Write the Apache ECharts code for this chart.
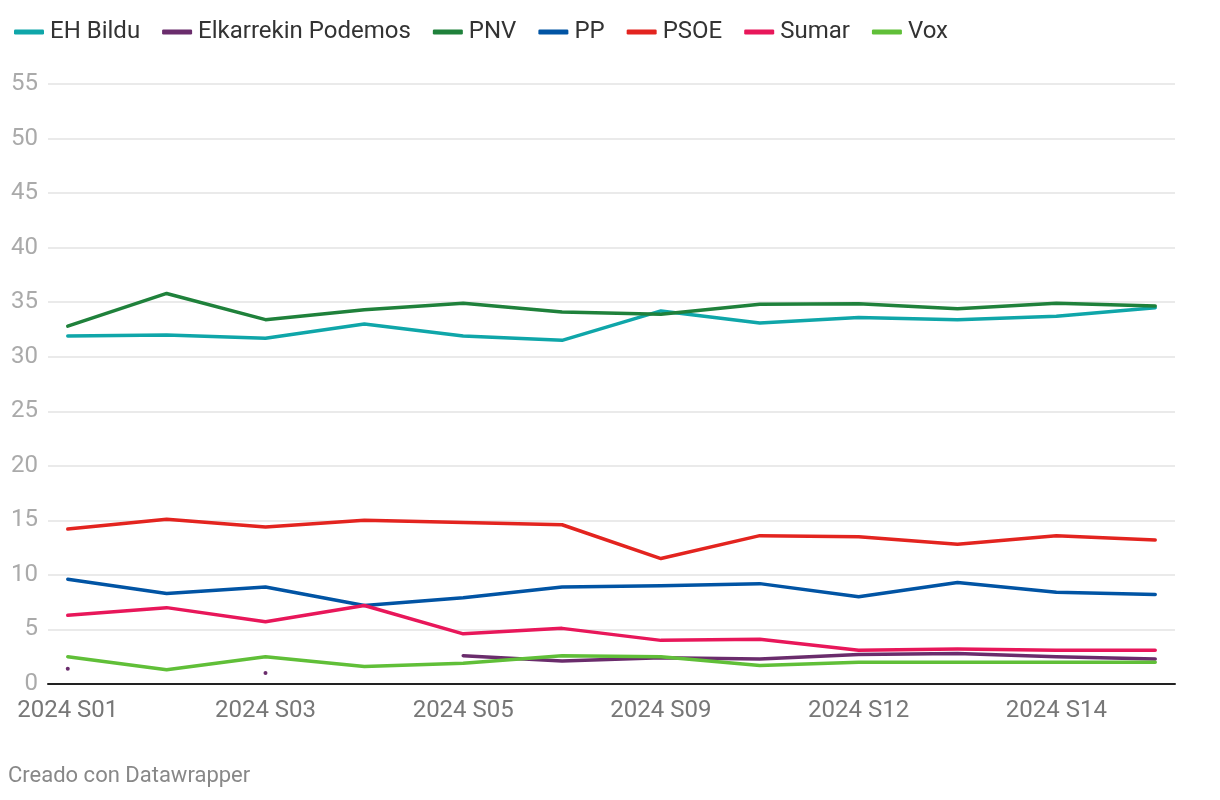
<!DOCTYPE html>
<html>
<head>
<meta charset="utf-8">
<script src="https://cdn.jsdelivr.net/npm/echarts@6/dist/echarts.min.js"></script>
<style>
  html, body { margin: 0; padding: 0; background: #fff; }
  #chart { width: 1220px; height: 800px; }
</style>
</head>
<body>
<div id="chart"></div>
<script>
// categorias (semanas)
const categories = ['2024 S01', '2024 S02', '2024 S03', '2024 S04', '2024 S05', '2024 S07',
                    '2024 S09', '2024 S10', '2024 S12', '2024 S13', '2024 S14', '2024 S15'];
const labelIdx = [0, 2, 4, 6, 8, 10];

const ehBildu    = [31.9, 32.0, 31.7, 33.0, 31.9, 31.5, 34.2, 33.1, 33.6, 33.4, 33.7, 34.5];
const elkarrekin = [1.4, null, 1.0, null, 2.6, 2.1, 2.4, 2.3, 2.7, 2.8, 2.5, 2.3];
const pnv        = [32.8, 35.8, 33.4, 34.3, 34.9, 34.1, 33.9, 34.8, 34.85, 34.4, 34.9, 34.65];
const pp         = [9.6, 8.3, 8.9, 7.2, 7.9, 8.9, 9.0, 9.2, 8.0, 9.3, 8.4, 8.2];
const psoe       = [14.2, 15.1, 14.4, 15.0, 14.8, 14.6, 11.5, 13.6, 13.5, 12.8, 13.6, 13.2];
const sumar      = [6.3, 7.0, 5.7, 7.2, 4.6, 5.1, 4.0, 4.1, 3.1, 3.2, 3.1, 3.1];
const vox        = [2.5, 1.3, 2.5, 1.6, 1.9, 2.6, 2.5, 1.7, 2.0, 2.0, 2.0, 2.0];

const seriesDefs = [
  { name: 'EH Bildu', data: ehBildu, color: '#0fa6a9' },
  { name: 'Elkarrekin Podemos', data: elkarrekin, color: '#6a2c6c' },
  { name: 'PNV', data: pnv, color: '#1f813b' },
  { name: 'PP', data: pp, color: '#0154a4' },
  { name: 'PSOE', data: psoe, color: '#e3241f' },
  { name: 'Sumar', data: sumar, color: '#e8175a' },
  { name: 'Vox', data: vox, color: '#60bf38' }
];

const FONT = 'Roboto';

// punto aislado (sin vecinos) -> se dibuja como punto
function isolated(arr, i) {
  return arr[i] != null && (i === 0 || arr[i - 1] == null) && (i === arr.length - 1 || arr[i + 1] == null);
}

const chart = echarts.init(document.getElementById('chart'), null, { renderer: 'canvas' });

chart.setOption({
  animation: false,
  textStyle: { fontFamily: FONT },
  legend: {
    left: 9,
    top: 15,
    itemWidth: 30,
    itemHeight: 5,
    itemGap: 22,
    icon: 'roundRect',
    textStyle: { fontFamily: FONT, fontSize: 24, color: '#333', padding: [0, 0, 0, 1] },
    data: seriesDefs.map(s => s.name)
  },
  title: {
    text: 'Creado con Datawrapper',
    left: 3,
    top: 760,
    textStyle: { fontFamily: FONT, fontSize: 22, color: '#888', fontWeight: 'normal' }
  },
  grid: { left: 48, right: 45, top: 84, bottom: 116 },
  xAxis: {
    type: 'value',
    min: -0.2,
    max: 11.2,
    axisLine: { show: true, onZero: false, lineStyle: { color: '#222', width: 2 } },
    axisTick: { show: false },
    splitLine: { show: false },
    axisLabel: {
      customValues: labelIdx,
      formatter: v => categories[v],
      fontFamily: FONT,
      fontSize: 24,
      color: '#777',
      margin: 15
    }
  },
  yAxis: {
    type: 'value',
    min: 0,
    max: 55,
    interval: 5,
    axisLine: { show: false },
    axisTick: { show: false },
    splitLine: { lineStyle: { color: '#e3e3e3', width: 1.5 } },
    axisLabel: { fontFamily: FONT, fontSize: 24, color: '#aaa', margin: 10 }
  },
  series: seriesDefs.map(s => ({
    name: s.name,
    type: 'line',
    data: s.data.map((v, i) => [i, v]),
    color: s.color,
    lineStyle: { width: 3.5, color: s.color, cap: 'round', join: 'round' },
    showSymbol: true,
    symbol: 'circle',
    symbolSize: (val, p) => isolated(s.data, p.dataIndex) ? 4 : 0,
    itemStyle: { color: s.color },
    connectNulls: false
  }))
});
</script>
</body>
</html>
